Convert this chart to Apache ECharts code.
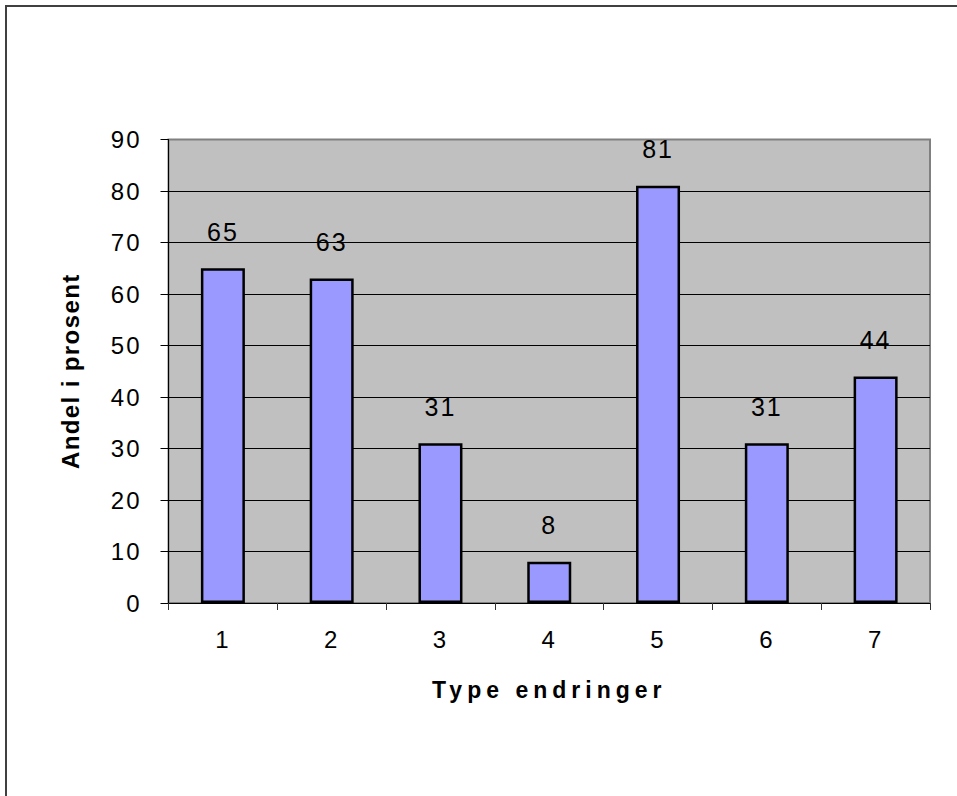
<!DOCTYPE html>
<html>
<head>
<meta charset="utf-8">
<script src="https://cdn.jsdelivr.net/npm/echarts@6/dist/echarts.min.js"></script>
<style>
  html, body { margin: 0; padding: 0; background: #fff; }
  #chart { width: 957px; height: 796px; }
  #chart svg text { letter-spacing: 2px; }
</style>
</head>
<body>
<div id="chart"></div>
<script>
// Kategorier (type endringer) og andel i prosent
const categories = ['1', '2', '3', '4', '5', '6', '7'];
const shares = [65, 63, 31, 8, 81, 31, 44];
const yMin = 0, yMax = 90, yStep = 10;
const xAxisTitle = 'Type endringer';
const yAxisTitle = 'Andel i prosent';

const FONT = '"Liberation Sans", Arial, sans-serif';

// split line colours: black grid lines, the top one matches the grey frame
const splitColors = [];
for (let v = yMin; v <= yMax; v += yStep) splitColors.push(v === yMax ? '#808080' : '#000000');

const chart = echarts.init(document.getElementById('chart'), null, { renderer: 'svg' });

chart.setOption({
  animation: false,
  backgroundColor: '#ffffff',
  graphic: [{
    type: 'rect',
    shape: { x: 6, y: 6, width: 1200, height: 1200 },
    style: { fill: 'none', stroke: '#404040', lineWidth: 2 },
    silent: true,
    z: 100
  }],
  grid: {
    left: 168.5, right: 27, top: 139.5, bottom: 193,
    show: true,
    backgroundColor: '#C0C0C0',
    borderColor: '#808080',
    borderWidth: 2
  },
  xAxis: {
    type: 'category',
    data: categories,
    boundaryGap: true,
    name: xAxisTitle,
    nameLocation: 'middle',
    nameGap: 75,
    nameTextStyle: { fontFamily: FONT, fontSize: 23, fontWeight: 'bold', color: '#000' },
    axisLine: { lineStyle: { color: '#000', width: 1 } },
    axisTick: { show: true, length: 7, lineStyle: { color: '#333' } },
    axisLabel: { fontFamily: FONT, fontSize: 24, color: '#000', margin: 24 },
    splitLine: { show: false }
  },
  yAxis: {
    type: 'value',
    min: yMin, max: yMax, interval: yStep,
    name: yAxisTitle,
    nameLocation: 'middle',
    nameGap: 86,
    nameRotate: 90,
    nameTextStyle: { fontFamily: FONT, fontSize: 24, fontWeight: 'bold', color: '#000' },
    axisLine: { show: true, lineStyle: { color: '#000', width: 1 } },
    axisTick: { show: true, length: 8, lineStyle: { color: '#000' } },
    axisLabel: { fontFamily: FONT, fontSize: 24, color: '#000', margin: 27 },
    splitLine: { show: true, lineStyle: { color: splitColors, width: 1 } }
  },
  series: [{
    type: 'bar',
    data: shares,
    barWidth: 44,
    itemStyle: { color: '#9999FF', borderColor: '#000', borderWidth: 2.5 },
    label: {
      show: true,
      position: 'top',
      distance: 24,
      fontFamily: FONT,
      fontSize: 25,
      color: '#000'
    }
  }]
});

// wider tracking for the axis titles
function spaceTitles() {
  document.querySelectorAll('#chart svg text').forEach(function (t) {
    const s = t.textContent;
    if (s === xAxisTitle) t.style.letterSpacing = '5px';
    else if (s === yAxisTitle) t.style.letterSpacing = '1.4px';
  });
}
chart.on('finished', spaceTitles);
spaceTitles();
setTimeout(spaceTitles, 50);
</script>
</body>
</html>
